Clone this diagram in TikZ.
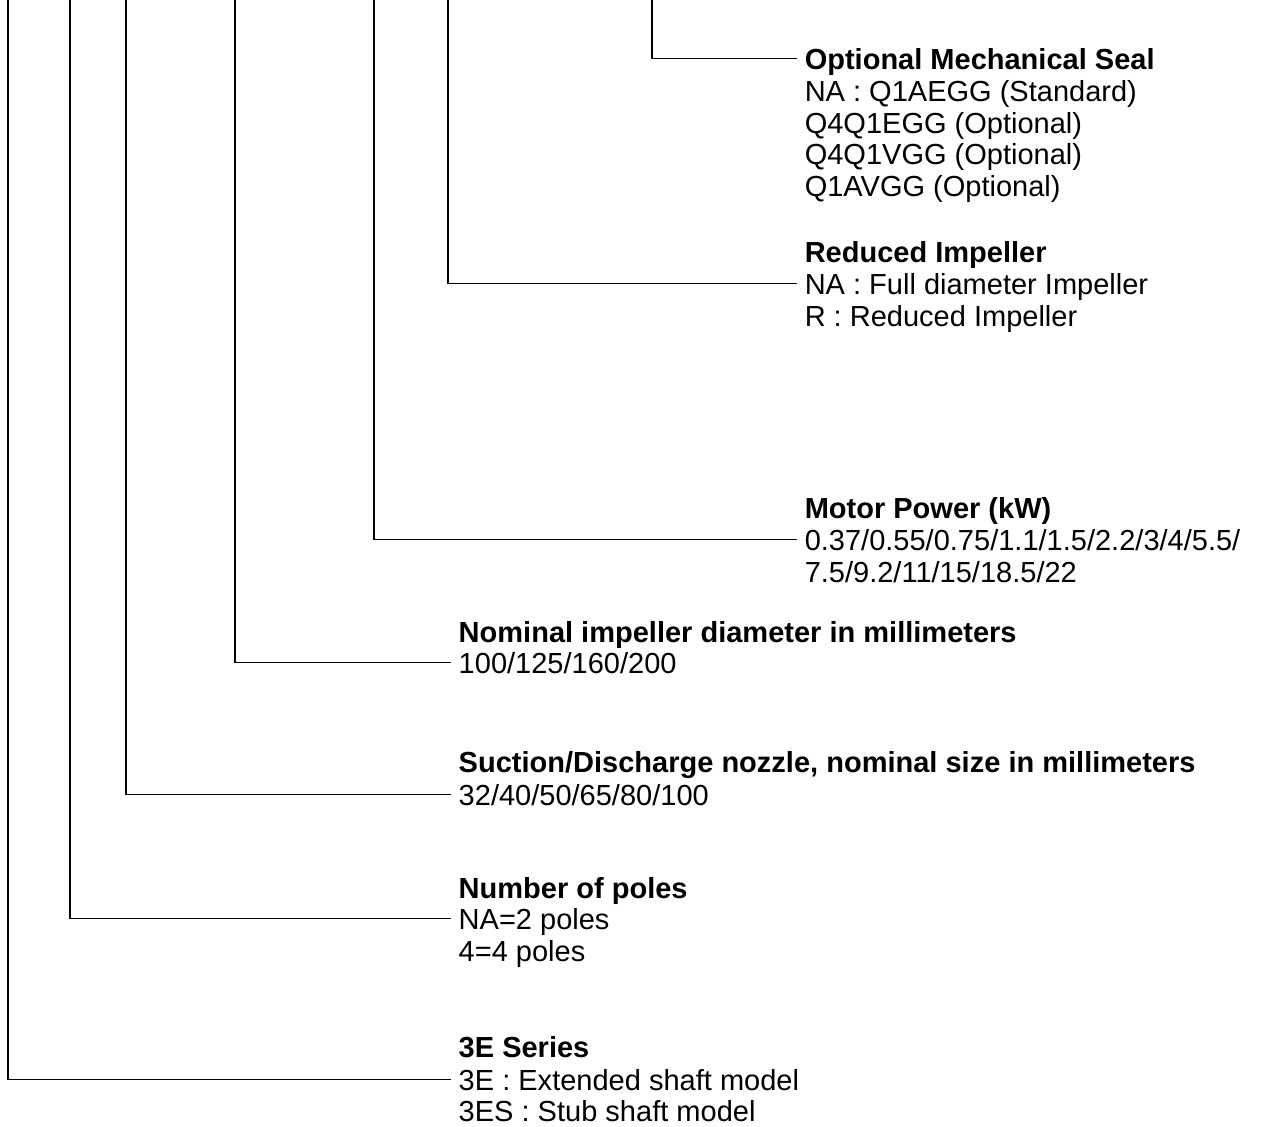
\documentclass[tikz,border=0pt]{standalone}
\usepackage{fontspec}
\setmainfont{Liberation Sans}
\tikzset{
  txt/.style={anchor=base west, inner xsep=2pt, inner ysep=0pt, text height=5.9pt, text depth=0pt, font=\fontsize{8.25}{9}\selectfont},
  head/.style={txt, font=\fontsize{8.25}{9}\selectfont\bfseries},
  lead/.style={line width=0.45pt}
}
\begin{document}
\begin{tikzpicture}[x=0.01cm,y=-0.01cm]
 \useasboundingbox (0,0) rectangle (1261,1126);
 \coordinate (tser) at (8,0);
 \coordinate (tpol) at (70,0);
 \coordinate (tnoz) at (126,0);
 \coordinate (timp) at (235,0);
 \coordinate (tmot) at (374,0);
 \coordinate (tred) at (448,0);
 \coordinate (tsea) at (652,0);

 \node[head] (sea) at (797,69) {Optional Mechanical Seal};
 \node[txt] (sea1) at (797,101) {NA : Q1AEGG (Standard)};
 \node[txt] (sea2) at (797,133) {Q4Q1EGG (Optional)};
 \node[txt] (sea3) at (797,164) {Q4Q1VGG (Optional)};
 \node[txt] (sea4) at (797,196) {Q1AVGG (Optional)};

 \node[head] (red) at (797,262) {Reduced Impeller};
 \node[txt] (red1) at (797,294) {NA : Full diameter Impeller};
 \node[txt] (red2) at (797,326) {R : Reduced Impeller};

 \node[head] (mot) at (797,518) {Motor Power (kW)};
 \node[txt] (mot1) at (797,550) {0.37/0.55/0.75/1.1/1.5/2.2/3/4/5.5/};
 \node[txt] (mot2) at (797,582) {7.5/9.2/11/15/18.5/22};

 \node[head] (imp) at (451,642) {Nominal impeller diameter in millimeters};
 \node[txt] (imp1) at (451,673) {100/125/160/200};

 \node[head] (noz) at (451,772) {Suction/Discharge nozzle, nominal size in millimeters};
 \node[txt] (noz1) at (451,805) {32/40/50/65/80/100};

 \node[head] (pol) at (451,898) {Number of poles};
 \node[txt] (pol1) at (451,929) {NA=2 poles};
 \node[txt] (pol2) at (451,961) {4=4 poles};

 \node[head] (ser) at (451,1057) {3E Series};
 \node[txt] (ser1) at (451,1090) {3E : Extended shaft model};
 \node[txt] (ser2) at (451,1121) {3ES : Stub shaft model};

 \draw[lead] (tsea) |- (sea.west);
 \draw[lead] (tred) |- (red1.west);
 \draw[lead] (tmot) |- (mot1.west);
 \draw[lead] (timp) |- (imp1.west);
 \draw[lead] (tnoz) |- (noz1.west);
 \draw[lead] (tpol) |- (pol1.west);
 \draw[lead] (tser) |- (ser1.west);
\end{tikzpicture}
\end{document}
